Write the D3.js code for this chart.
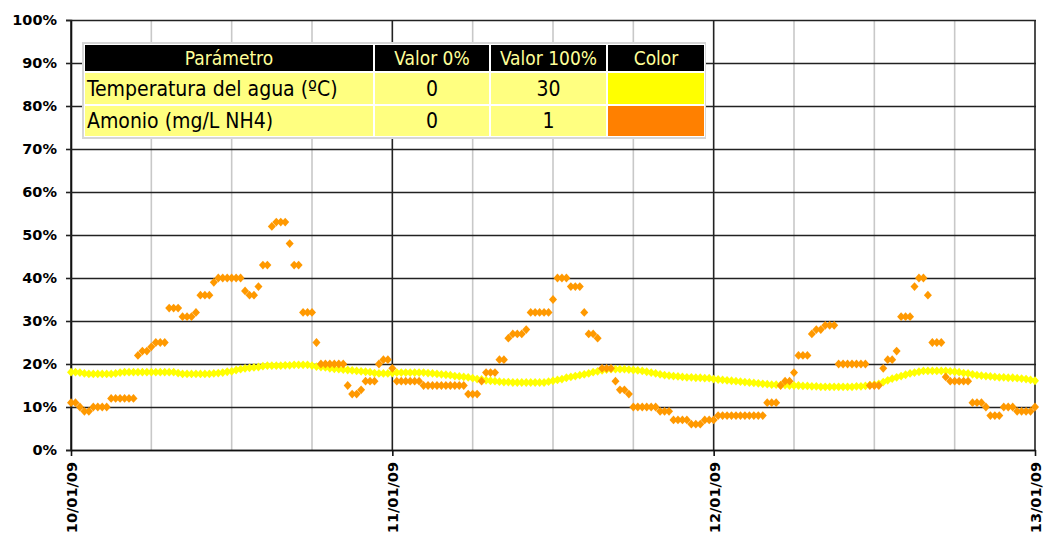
<!DOCTYPE html>
<html>
<head>
<meta charset="utf-8">
<script src="https://cdn.jsdelivr.net/npm/d3@7"></script>
<style>
  body { margin: 0; background: #fff; }
  svg { display: block; }
</style>
</head>
<body>
<svg id="chart"></svg>
<script>
// readings every 20 minutes from 10/01/09 00:00 to 13/01/09 00:00, in % of scale
var startDate = new Date(2009, 0, 10);
var endDate = new Date(2009, 0, 13);
var stepMinutes = 20;

// Temperatura del agua (0..30 ºC -> 0..100%)
var temperatura = [
  18.1,18.1,18.0, 17.8,17.7,17.7, 17.7,17.7,17.7, 17.7,17.8,18.0, 18.1,18.1,18.1, 18.1,18.1,18.1, 18.1,18.1,18.1, 18.1,18.1,18.1,
  17.9,17.7,17.7, 17.7,17.7,17.7, 17.7,17.7,17.8, 17.9,18.0,18.2, 18.3,18.6,18.8, 19.0,19.1,19.2, 19.3,19.5,19.6, 19.6,19.6,19.6,
  19.7,19.7,19.8, 19.8,19.8,19.8, 19.6,19.4,19.3, 19.2,19.0,18.9, 18.8,18.7,18.6, 18.5,18.4,18.3, 18.2,18.1,17.9, 17.8,17.8,17.8,
  17.9,18.0,18.0, 18.0,18.0,18.0, 18.0,18.0,17.9, 17.8,17.7,17.6, 17.5,17.4,17.2, 17.1,17.0,16.9, 16.7,16.5,16.4, 16.2,16.1,16.0,
  15.9,15.8,15.8, 15.7,15.7,15.7, 15.7,15.7,15.7, 15.7,15.7,15.9, 16.1,16.3,16.5, 16.8,17.0,17.2, 17.4,17.6,17.8, 18.1,18.3,18.5,
  18.7,18.8,18.8, 18.8,18.8,18.7, 18.6,18.5,18.4, 18.2,18.0,17.8, 17.6,17.4,17.3, 17.2,17.1,17.0, 16.9,16.9,16.8, 16.8,16.7,16.7,
  16.5,16.4,16.3, 16.2,16.1,16.0, 15.9,15.8,15.7, 15.6,15.5,15.4, 15.3,15.2,15.2, 15.1,15.1,15.0, 15.0,15.0,14.9, 14.9,14.8,14.8,
  14.7,14.7,14.7, 14.7,14.7,14.7, 14.7,14.7,14.8, 14.8,14.9,15.1, 15.2,15.4,15.8, 16.2,16.6,16.9, 17.2,17.5,17.8, 18.0,18.2,18.4,
  18.4,18.4,18.4, 18.4,18.4,18.3, 18.2,18.1,17.9, 17.8,17.6,17.4, 17.3,17.2,17.1, 17.0,16.9,16.9, 16.8,16.8,16.7, 16.6,16.5,16.3,
  16.1
];

// Amonio (0..1 mg/L NH4 -> 0..100%)
var amonio = [
  11,11,10, 9,9,10, 10,10,10, 12,12,12, 12,12,12, 22,23,23, 24,25,25, 25,33,33,
  33,31,31, 31,32,36, 36,36,39, 40,40,40, 40,40,40, 37,36,36, 38,43,43, 52,53,53,
  53,48,43, 43,32,32, 32,25,20, 20,20,20, 20,20,15, 13,13,14, 16,16,16, 20,21,21,
  19,16,16, 16,16,16, 16,15,15, 15,15,15, 15,15,15, 15,15,13, 13,13,16, 18,18,18,
  21,21,26, 27,27,27, 28,32,32, 32,32,32, 35,40,40, 40,38,38, 38,32,27, 27,26,19,
  19,19,16, 14,14,13, 10,10,10, 10,10,10, 9,9,9, 7,7,7, 7,6,6, 6,7,7,
  7,8,8, 8,8,8, 8,8,8, 8,8,8, 11,11,11, 15,16,16, 18,22,22, 22,27,28,
  28,29,29, 29,20,20, 20,20,20, 20,20,15, 15,15,19, 21,21,23, 31,31,31, 38,40,40,
  36,25,25, 25,17,16, 16,16,16, 16,11,11, 11,10,8, 8,8,10, 10,10,9, 9,9,9,
  10
];

var yTicks = [0, 10, 20, 30, 40, 50, 60, 70, 80, 90, 100];
var dayTicks = [new Date(2009, 0, 10), new Date(2009, 0, 11), new Date(2009, 0, 12), new Date(2009, 0, 13)];

var tableHeaders = ["Parámetro", "Valor 0%", "Valor 100%", "Color"];
var tableParams = ["Temperatura del agua (ºC)", "Amonio (mg/L NH4)"];
var tableMin = [0, 0];
var tableMax = [30, 1];
var tableColors = ["#ffff00", "#ff8000"];

var seriesColors = ["#ffff00", "#ff9900"];

draw();

function draw() {
  var width = 1046, height = 539;
  var marginLeft = 71, marginRight = 11, marginTop = 20, marginBottom = 89;

  var svg = d3.select("#chart")
      .attr("width", width)
      .attr("height", height);

  var times = d3.range(amonio.length).map(function(i) {
    return d3.timeMinute.offset(startDate, i * stepMinutes);
  });

  var x = d3.scaleTime([startDate, endDate], [marginLeft, width - marginRight]);
  var y = d3.scaleLinear([0, 100], [height - marginBottom, marginTop]);

  // minor vertical grid every 6 hours
  svg.append("g")
    .selectAll("line")
    .data(d3.timeHour.every(6).range(startDate, endDate).filter(function(d) { return d.getHours() != 0; }))
    .join("line")
      .attr("x1", d => x(d)).attr("x2", d => x(d))
      .attr("y1", y(100)).attr("y2", y(0))
      .attr("stroke", "#c8c8c8")
      .attr("stroke-width", 1.6);

  // major vertical grid on each day
  svg.append("g")
    .selectAll("line")
    .data(dayTicks)
    .join("line")
      .attr("x1", d => x(d)).attr("x2", d => x(d))
      .attr("y1", y(100)).attr("y2", y(0))
      .attr("stroke", "#222")
      .attr("stroke-width", 1.6);

  // y axis with horizontal grid
  svg.append("g")
      .attr("transform", `translate(${marginLeft},0)`)
      .call(d3.axisLeft(y).tickValues(yTicks).tickFormat(d => d + "%").tickSize(5).tickPadding(9))
      .call(g => g.select(".domain").attr("stroke", "#111").attr("stroke-width", 1.6))
      .call(g => g.selectAll(".tick line").attr("stroke", "#222").attr("stroke-width", 1.6).clone()
          .attr("x1", 0)
          .attr("x2", width - marginLeft - marginRight + 1))
      .call(g => g.selectAll("text")
          .attr("font-family", "'DejaVu Sans', Verdana, sans-serif")
          .attr("font-weight", "bold")
          .attr("font-size", 14.5)
          .attr("fill", "#000"));

  // x axis
  svg.append("g")
      .attr("transform", `translate(0,${y(0)})`)
      .call(d3.axisBottom(x).tickValues(dayTicks).tickFormat(d3.timeFormat("%d/%m/%y")).tickSize(6).tickSizeOuter(0))
      .call(g => g.select(".domain").attr("stroke", "#111").attr("stroke-width", 1.6))
      .call(g => g.selectAll(".tick line").attr("stroke", "#111").attr("stroke-width", 1.6))
      .call(g => g.selectAll("text")
          .attr("font-family", "'DejaVu Sans', Verdana, sans-serif")
          .attr("font-weight", "bold")
          .attr("font-size", 14.5)
          .attr("fill", "#000")
          .attr("text-anchor", "end")
          .attr("transform", "rotate(-90)")
          .attr("x", -12)
          .attr("y", 0)
          .attr("dy", "0.38em"));

  var diamond = "M0,-4.4L4,0L0,4.4L-4,0Z";

  // temperature markers
  svg.append("g")
    .selectAll("path")
    .data(temperatura)
    .join("path")
      .attr("d", diamond)
      .attr("transform", (d, i) => `translate(${x(times[i])},${y(d)})`)
      .attr("fill", seriesColors[0]);

  // ammonium markers on top
  svg.append("g")
    .selectAll("path")
    .data(amonio)
    .join("path")
      .attr("d", diamond)
      .attr("transform", (d, i) => `translate(${x(times[i])},${y(d)})`)
      .attr("fill", seriesColors[1]);

  drawTable(svg);
}

function drawTable(svg) {
  var colEdges = [[85, 373], [375, 489], [491, 606], [608, 704]];
  var rowEdges = [[45, 71], [73, 104], [106, 136]];
  var font = "'DejaVu Sans Condensed', 'DejaVu Sans', sans-serif";

  var t = svg.append("g");
  t.append("rect")
      .attr("x", 82).attr("y", 42).attr("width", 624).attr("height", 97)
      .attr("fill", "#d6d6d6");
  t.append("rect")
      .attr("x", 84).attr("y", 44).attr("width", 621).attr("height", 93)
      .attr("fill", "#fff");

  // header
  t.selectAll("rect.head")
    .data(tableHeaders)
    .join("rect")
      .attr("class", "head")
      .attr("x", (d, i) => colEdges[i][0])
      .attr("y", rowEdges[0][0])
      .attr("width", (d, i) => colEdges[i][1] - colEdges[i][0])
      .attr("height", rowEdges[0][1] - rowEdges[0][0])
      .attr("fill", "#000");
  t.selectAll("text.head")
    .data(tableHeaders)
    .join("text")
      .attr("class", "head")
      .attr("x", (d, i) => (colEdges[i][0] + colEdges[i][1]) / 2)
      .attr("y", 65)
      .attr("text-anchor", "middle")
      .attr("font-family", font)
      .attr("font-size", 19)
      .attr("fill", "#ffff99")
      .text(d => d);

  tableParams.forEach(function(p, r) {
    var y0 = rowEdges[r + 1][0], y1 = rowEdges[r + 1][1];
    var cells = [p, tableMin[r], tableMax[r], null];
    cells.forEach(function(c, i) {
      t.append("rect")
          .attr("x", colEdges[i][0]).attr("y", y0)
          .attr("width", colEdges[i][1] - colEdges[i][0]).attr("height", y1 - y0)
          .attr("fill", i == 3 ? tableColors[r] : "#ffff80");
      if (c === null) return;
      t.append("text")
          .attr("x", i == 0 ? colEdges[i][0] + 2 : (colEdges[i][0] + colEdges[i][1]) / 2)
          .attr("y", y1 - 8)
          .attr("text-anchor", i == 0 ? "start" : "middle")
          .attr("font-family", font)
          .attr("font-size", 21)
          .attr("fill", "#000")
          .text(c);
    });
  });
}
</script>
</body>
</html>
